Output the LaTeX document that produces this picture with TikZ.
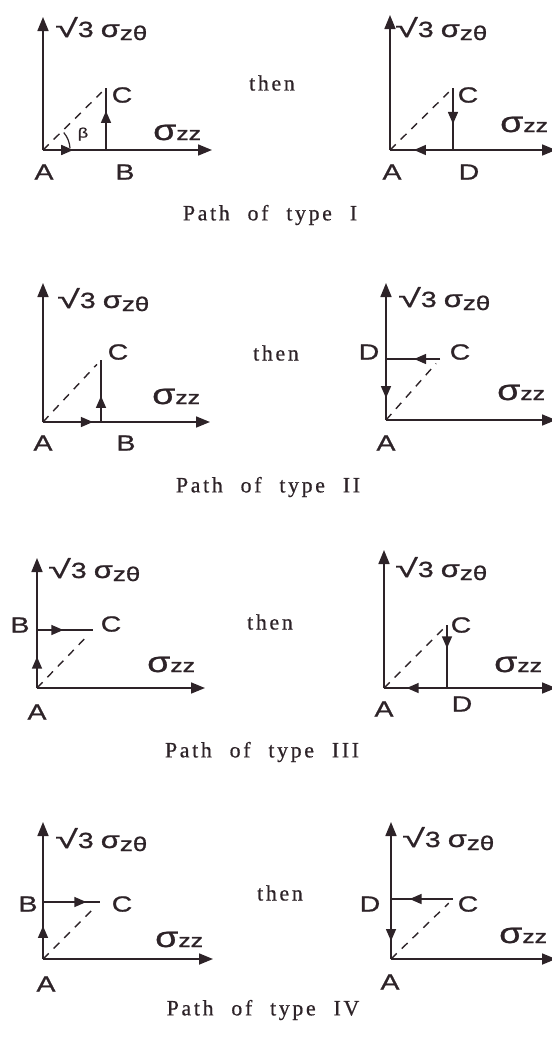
\documentclass[tikz,border=0pt]{standalone}
\usepackage{fontspec}
\usepackage{graphicx}
\setmainfont{Liberation Serif}
\newfontfamily\lsans[FakeStretch=1.3,FakeBold=1]{Liberation Sans}
\newfontfamily\capfont[LetterSpace=12,WordSpace=2.2,FakeBold=0.6]{Liberation Serif}
\usetikzlibrary{arrows.meta,decorations.markings,calc}
\definecolor{ink}{RGB}{45,35,40}
\newcommand\sgzz{{\fontsize{29}{29}\selectfont σ}{\fontsize{19}{19}\selectfont zz}}
\newcommand\sgzt{{\fontsize{22}{22}\selectfont \scalebox{1.45}[1.15]{√}3\hspace{7bp}}{\fontsize{24}{24}\selectfont σ}\raisebox{-3bp}{\fontsize{20}{20}\selectfont zθ}}
\tikzset{
 axis/.style={ink, line width=1.7bp, -{Triangle[length=14bp,width=11bp]}},
 seg/.style={ink, line width=1.5bp},
 midarr/.style={decoration={markings, mark=at position #1 with {\arrow{Triangle[length=12bp,width=10bp]}}}, postaction={decorate}},
 diag/.style={ink, line width=1.4bp, dash pattern=on 8bp off 7bp, shorten >=6bp},
 lab/.style={inner sep=0, font=\lsans\fontsize{22}{22}\selectfont, text=ink},
 axlab/.style={inner sep=0, anchor=base west, font=\lsans, text=ink},
 caplab/.style={inner sep=0, font=\capfont\fontsize{22}{22}\selectfont, text=ink}
}
\begin{document}
\begin{tikzpicture}[x=1bp,y=-1bp]
\useasboundingbox (0,0) rectangle (552,1040);
% ---------- Row 1 left ----------
\coordinate (aA) at (43,150); \coordinate (aT) at (43,17); \coordinate (aH) at (212,150);
\coordinate (aB) at (106,150); \coordinate (aC) at (106,88);
\draw[axis] (aA) -- (aT); \draw[axis] (aA) -- (aH);
\draw[diag] (aA) -- (aC);
\draw[seg, midarr=0.48] (aA) -- (aB);
\draw[seg, midarr=0.63] (aB) -- (aC);
\draw[ink, line width=1.2bp] ($(aA)+(27,-2)$) arc[start angle=-4, end angle=-40, radius=27];
\node[lab, font=\lsans\fontsize{14}{14}\selectfont] (aBeta) at (83,134) {β};
\node[lab] (laA) at (44,172) {A};
\node[lab] (laB) at (125,172) {B};
\node[lab] (laC) at (122,95) {C};
\node[axlab] (aZZ) at (153,140) {\sgzz};
\node[axlab] (aZT) at (55,37) {\sgzt};
% ---------- Row 1 right ----------
\coordinate (bA) at (390,150); \coordinate (bT) at (390,15); \coordinate (bH) at (556,150);
\coordinate (bD) at (453,150); \coordinate (bC) at (453,88);
\draw[axis] (bA) -- (bT); \draw[axis] (bA) -- (bH);
\draw[diag] (bA) -- (bC);
\draw[seg, midarr=0.58] (bC) -- (bD);
\draw[seg, midarr=0.62] (bD) -- (bA);
\node[lab] (lbA) at (392,172) {A};
\node[lab] (lbD) at (469,172) {D};
\node[lab] (lbC) at (468,95) {C};
\node[axlab] (bZZ) at (500,132) {\sgzz};
\node[axlab] (bZT) at (395,37) {\sgzt};
\node[caplab] (then1) at (272,83) {then};
\node[caplab] (cap1) at (270,215) {Path of type I};
% ---------- Row 2 left ----------
\coordinate (cA) at (43,422); \coordinate (cT) at (43,283); \coordinate (cH) at (210,422);
\coordinate (cB) at (101,422); \coordinate (cC) at (101,360);
\draw[axis] (cA) -- (cT); \draw[axis] (cA) -- (cH);
\draw[diag] (cA) -- (cC);
\draw[seg, midarr=0.86] (cA) -- (cB);
\draw[seg, midarr=0.42] (cB) -- (cC);
\node[lab] (lcA) at (43,443) {A};
\node[lab] (lcB) at (126,443) {B};
\node[lab] (lcC) at (118,352) {C};
\node[axlab] (cZZ) at (152,404) {\sgzz};
\node[axlab] (cZT) at (57,308) {\sgzt};
% ---------- Row 2 right ----------
\coordinate (dA) at (386,420); \coordinate (dT) at (386,283); \coordinate (dH) at (556,420);
\coordinate (dD) at (386,359); \coordinate (dC) at (440,359);
\draw[axis] (dA) -- (dT); \draw[axis] (dA) -- (dH);
\draw[diag] (dA) -- (dC);
\draw[seg, midarr=0.48] (dC) -- (dD);
\draw[seg, midarr=0.64] (dD) -- (dA);
\node[lab] (ldA) at (386,443) {A};
\node[lab] (ldD) at (369,352) {D};
\node[lab] (ldC) at (460,352) {C};
\node[axlab] (dZZ) at (497,400) {\sgzz};
\node[axlab] (dZT) at (398,307) {\sgzt};
\node[caplab] (then2) at (276,353) {then};
\node[caplab] (cap2) at (268,487) {Path of type II};
% ---------- Row 3 left ----------
\coordinate (eA) at (37,688); \coordinate (eT) at (37,558); \coordinate (eH) at (205,688);
\coordinate (eB) at (37,630); \coordinate (eC) at (93,630);
\draw[axis] (eA) -- (eT); \draw[axis] (eA) -- (eH);
\draw[diag] (eA) -- (eC);
\draw[seg, midarr=0.54] (eA) -- (eB);
\draw[seg, midarr=0.47] (eB) -- (eC);
\node[lab] (leA) at (37,712) {A};
\node[lab] (leB) at (20,625) {B};
\node[lab] (leC) at (111,624) {C};
\node[axlab] (eZZ) at (147,672) {\sgzz};
\node[axlab] (eZT) at (48,578) {\sgzt};
% ---------- Row 3 right ----------
\coordinate (fA) at (384,688); \coordinate (fT) at (384,550); \coordinate (fH) at (556,688);
\coordinate (fD) at (447,688); \coordinate (fC) at (447,625);
\draw[axis] (fA) -- (fT); \draw[axis] (fA) -- (fH);
\draw[diag] (fA) -- (fC);
\draw[seg, midarr=0.37] (fC) -- (fD);
\draw[seg, midarr=0.64] (fD) -- (fA);
\node[lab] (lfA) at (384,709) {A};
\node[lab] (lfD) at (462,704) {D};
\node[lab] (lfC) at (461,625) {C};
\node[axlab] (fZZ) at (494,672) {\sgzz};
\node[axlab] (fZT) at (395,577) {\sgzt};
\node[caplab] (then3) at (270,622) {then};
\node[caplab] (cap3) at (262,752) {Path of type III};
% ---------- Row 4 left ----------
\coordinate (gA) at (43,959); \coordinate (gT) at (43,822); \coordinate (gH) at (213,959);
\coordinate (gB) at (43,902); \coordinate (gC) at (100,902);
\draw[axis] (gA) -- (gT); \draw[axis] (gA) -- (gH);
\draw[diag] (gA) -- (gC);
\draw[seg, midarr=0.58] (gA) -- (gB);
\draw[seg, midarr=0.76] (gB) -- (gC);
\node[lab] (lgA) at (46,984) {A};
\node[lab] (lgB) at (28,904) {B};
\node[lab] (lgC) at (122,904) {C};
\node[axlab] (gZZ) at (155,947) {\sgzz};
\node[axlab] (gZT) at (55,848) {\sgzt};
% ---------- Row 4 right ----------
\coordinate (hA) at (391,959); \coordinate (hT) at (391,822); \coordinate (hH) at (556,959);
\coordinate (hD) at (391,899); \coordinate (hC) at (453,899);
\draw[axis] (hA) -- (hT); \draw[axis] (hA) -- (hH);
\draw[diag] (hA) -- (hC);
\draw[seg, midarr=0.7] (hC) -- (hD);
\draw[seg, midarr=0.7] (hD) -- (hA);
\node[lab] (lhA) at (390,982) {A};
\node[lab] (lhD) at (370,904) {D};
\node[lab] (lhC) at (468,904) {C};
\node[axlab] (hZZ) at (499,943) {\sgzz};
\node[axlab] (hZT) at (402,847) {\sgzt};
\node[caplab] (then4) at (280,893) {then};
\node[caplab] (cap4) at (263,1010) {Path of type IV};
\end{tikzpicture}
\end{document}
